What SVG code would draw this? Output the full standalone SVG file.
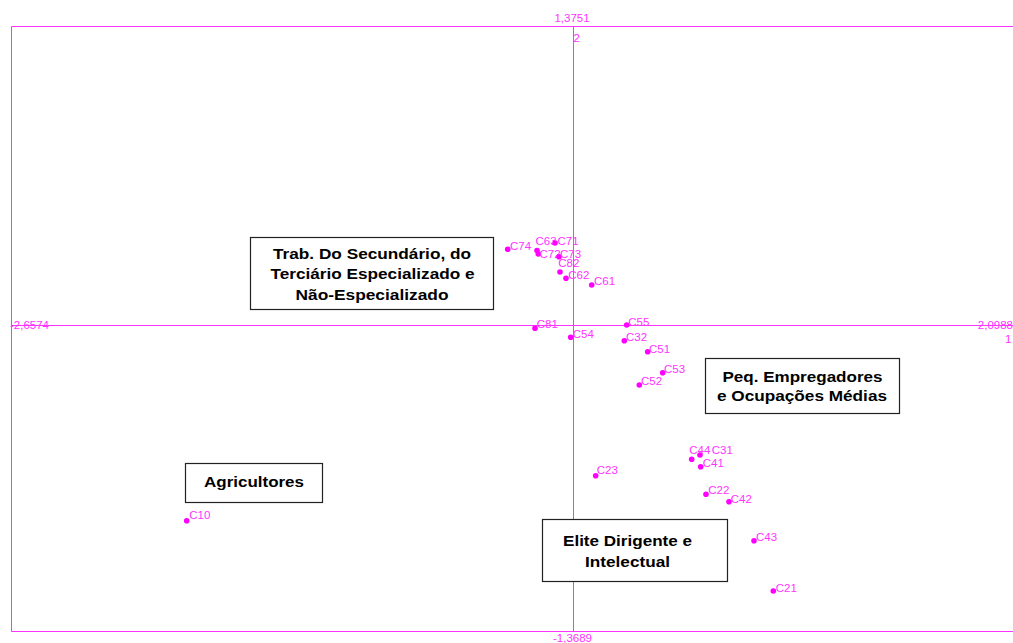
<svg xmlns="http://www.w3.org/2000/svg" width="1013" height="643" viewBox="0 0 1013 643">
<style>
.ax{stroke:#ff33ff;stroke-width:1;fill:none}
.axt{font-family:"Liberation Sans",Arial,sans-serif;font-size:11.5px;fill:#ff33ff}
.pt circle{fill:#ff00ff}
.pt text{font-family:"Liberation Sans",Arial,sans-serif;font-size:11.5px;fill:#ff33ff}
.box rect{fill:#ffffff;stroke:#222222;stroke-width:1.2}
.box text{font-family:"Liberation Sans",Arial,sans-serif;font-size:15.5px;font-weight:bold;fill:#000000;text-anchor:middle}
</style>
<rect width="1013" height="643" fill="#ffffff"/>
<g id="connectors">
<path class="ax" d="M11.5,631.5 V26.5 H1013"/>
<path class="ax" d="M11.5,631.5 H1013"/>
<path class="ax" d="M573.5,26.5 V631.5"/>
<path class="ax" d="M11.5,325.5 H1013"/>
</g>
<g id="axis-labels">
<text class="axt" x="572" y="22" text-anchor="middle">1,3751</text>
<text class="axt" x="573.5" y="42">2</text>
<text class="axt" x="10" y="329">-2,6574</text>
<text class="axt" x="1013" y="329" text-anchor="end">2,0988</text>
<text class="axt" x="1005" y="343">1</text>
<text class="axt" x="572.5" y="642" text-anchor="middle">-1,3689</text>
</g>
<g id="points">
<g id="C74" class="pt"><circle cx="507.7" cy="249.3" r="2.8"/><text x="510" y="250">C74</text></g>
<g id="C63" class="pt"><circle cx="537" cy="250.5" r="2.8"/><text x="535.5" y="245">C63</text></g>
<g id="C71" class="pt"><circle cx="555" cy="243" r="2.8"/><text x="557.5" y="244.5">C71</text></g>
<g id="C72" class="pt"><circle cx="538.3" cy="254" r="2.8"/><text x="539.5" y="258">C72</text></g>
<g id="C73" class="pt"><circle cx="559" cy="256.7" r="2.8"/><text x="560" y="257.5">C73</text></g>
<g id="C82" class="pt"><circle cx="560" cy="272" r="2.8"/><text x="558.3" y="266.7">C82</text></g>
<g id="C62" class="pt"><circle cx="566" cy="278.3" r="2.8"/><text x="568.3" y="278.7">C62</text></g>
<g id="C61" class="pt"><circle cx="591.7" cy="285" r="2.8"/><text x="594" y="285">C61</text></g>
<g id="C81" class="pt"><circle cx="535" cy="328.3" r="2.8"/><text x="536.7" y="328.3">C81</text></g>
<g id="C55" class="pt"><circle cx="626.7" cy="325" r="2.8"/><text x="628.3" y="326">C55</text></g>
<g id="C54" class="pt"><circle cx="570.7" cy="337.3" r="2.8"/><text x="572.7" y="337.7">C54</text></g>
<g id="C32" class="pt"><circle cx="624.3" cy="340.7" r="2.8"/><text x="626" y="340.7">C32</text></g>
<g id="C51" class="pt"><circle cx="647.7" cy="351.7" r="2.8"/><text x="649" y="352.7">C51</text></g>
<g id="C53" class="pt"><circle cx="662.7" cy="372.7" r="2.8"/><text x="664" y="373.3">C53</text></g>
<g id="C52" class="pt"><circle cx="639.3" cy="385" r="2.8"/><text x="641" y="385">C52</text></g>
<g id="C44" class="pt"><circle cx="691.7" cy="459.3" r="2.8"/><text x="689.3" y="454">C44</text></g>
<g id="C31" class="pt"><circle cx="700" cy="455" r="2.8"/><text x="711.7" y="454">C31</text></g>
<g id="C41" class="pt"><circle cx="700.7" cy="466.7" r="2.8"/><text x="702.7" y="467.3">C41</text></g>
<g id="C22" class="pt"><circle cx="706" cy="494.3" r="2.8"/><text x="708.3" y="494.3">C22</text></g>
<g id="C42" class="pt"><circle cx="729" cy="501.7" r="2.8"/><text x="730.7" y="503.3">C42</text></g>
<g id="C43" class="pt"><circle cx="754" cy="540.7" r="2.8"/><text x="756" y="540.7">C43</text></g>
<g id="C21" class="pt"><circle cx="773.3" cy="591" r="2.8"/><text x="775.7" y="591.7">C21</text></g>
<g id="C10" class="pt"><circle cx="186.7" cy="520.7" r="2.8"/><text x="189.3" y="519.3">C10</text></g>
<g id="C23" class="pt"><circle cx="595.7" cy="475.7" r="2.8"/><text x="596.7" y="474.3">C23</text></g>
</g>
<g id="box-trab" class="box">
<rect x="250.5" y="237.5" width="243" height="72"/>
<text x="372" y="259" textLength="198" lengthAdjust="spacingAndGlyphs">Trab. Do Secundário, do</text>
<text x="372.5" y="279" textLength="204" lengthAdjust="spacingAndGlyphs">Terciário Especializado e</text>
<text x="372" y="299.5" textLength="153" lengthAdjust="spacingAndGlyphs">Não-Especializado</text>
</g>
<g id="box-peq" class="box">
<rect x="705.5" y="358.5" width="194" height="55"/>
<text x="802.5" y="381.5" textLength="160" lengthAdjust="spacingAndGlyphs">Peq. Empregadores</text>
<text x="802" y="401" textLength="170" lengthAdjust="spacingAndGlyphs">e Ocupações Médias</text>
</g>
<g id="box-agri" class="box">
<rect x="185.5" y="463.5" width="137" height="39"/>
<text x="254" y="486.5" textLength="100" lengthAdjust="spacingAndGlyphs">Agricultores</text>
</g>
<g id="box-elite" class="box">
<rect x="542.5" y="519.5" width="185" height="62"/>
<text x="627.5" y="545.5" textLength="129" lengthAdjust="spacingAndGlyphs">Elite Dirigente e</text>
<text x="627.5" y="567" textLength="85" lengthAdjust="spacingAndGlyphs">Intelectual</text>
</g>
</svg>
